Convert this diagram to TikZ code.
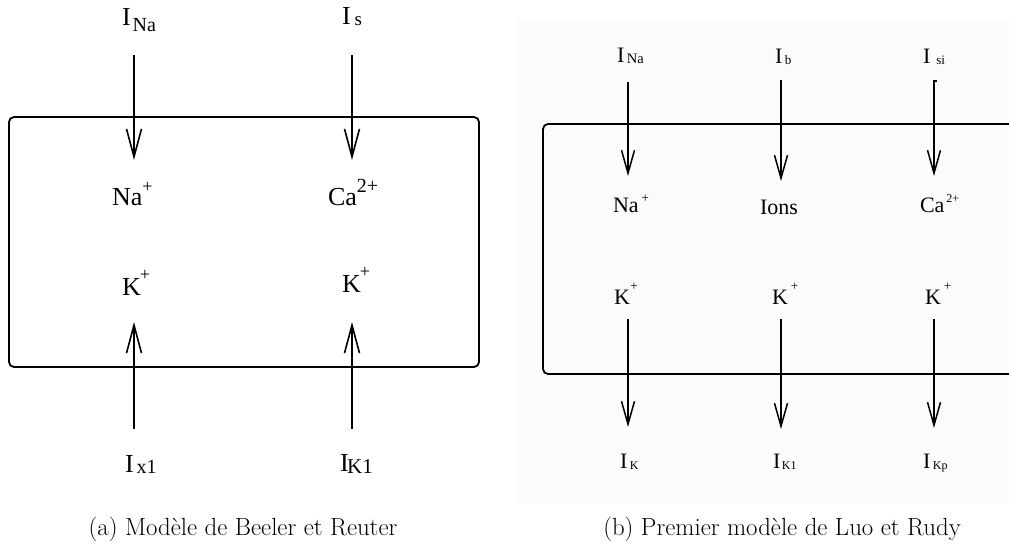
\documentclass[tikz,border=0pt]{standalone}
\usepackage{fontspec}
\newfontfamily\tnr{Liberation Serif}
\usetikzlibrary{arrows.meta}
\newcommand\fs[1]{\fontsize{#1}{#1}\selectfont}
\begin{document}
\begin{tikzpicture}[x=1pt,y=-1pt,
  lbl/.style={inner sep=0pt, outer sep=0pt, anchor=base west, font=\tnr},
  arrA/.style={line width=1.7pt, -{Straight Barb[length=28pt,width=15pt,line width=1.6pt]}},
  arrB/.style={line width=1.6pt, -{Straight Barb[length=23pt,width=13pt,line width=1.5pt]}},
  cellbox/.style={line width=1.8pt, rounded corners=5pt},
  captxt/.style={inner sep=0pt, anchor=base, font=\fs{24.8}}]
\clip (0,0) rectangle (1009,545);
\fill[white] (0,0) rectangle (1009,545);
\fill[black!1.5] (516,20) rectangle (1009,503);

% ---------- (a) ----------
\draw[cellbox] (9,117) rectangle (479,367);

\node[lbl] (aINa) at (122,26) {\fs{26}I\hspace{2pt}\raisebox{-6pt}{\fs{20}Na}};
\node[lbl] (aIs)  at (342,25) {\fs{26}I\hspace{4pt}\raisebox{-1pt}{\fs{19}s}};
\node[lbl] (aNa)  at (112,206) {\fs{26}Na\raisebox{13.5pt}{\fs{18}+}};
\node[lbl] (aCa)  at (328,206) {\fs{26}Ca\raisebox{13pt}{\fs{20}2+}};
\node[lbl] (aK1)  at (122,295) {\fs{26}K\hspace{-1pt}\raisebox{15pt}{\fs{18}+}};
\node[lbl] (aK2)  at (342,293) {\fs{26}K\hspace{-1pt}\raisebox{15.5pt}{\fs{18}+}};
\node[lbl] (aIx1) at (125,472) {\fs{26}I\hspace{3pt}\raisebox{-1pt}{\fs{20}x1}};
\node[lbl] (aIK1) at (340,471) {\fs{26}I\hspace{-1.5pt}\raisebox{-2pt}{\fs{21}K1}};

\coordinate (a1s) at (134,55);  \coordinate (a1e) at (134,160);
\coordinate (a2s) at (352,55);  \coordinate (a2e) at (352,160);
\coordinate (a3s) at (134,429); \coordinate (a3e) at (134,322);
\coordinate (a4s) at (352,429); \coordinate (a4e) at (352,322);
\draw[arrA] (a1s) -- (a1e);
\draw[arrA] (a2s) -- (a2e);
\draw[arrA] (a3s) -- (a3e);
\draw[arrA] (a4s) -- (a4e);

\node[captxt] (capa) at (243,535) {(a) Modèle de Beeler et Reuter};

% ---------- (b) ----------
\draw[cellbox] (1030,124) -- (543,124) -- (543,374) -- (1030,374);

\node[lbl] (bINa) at (617,63) {\fs{22}I\hspace{2.5pt}\raisebox{-1pt}{\fs{14.5}Na}};
\node[lbl] (bIb)  at (775,64) {\fs{22}I\hspace{2.5pt}\raisebox{-0.5pt}{\fs{13}b}};
\node[lbl] (bIsi) at (923,64) {\fs{22}I\hspace{6pt}\raisebox{-0.5pt}{\fs{13}si}};
\node[lbl] (bNa)  at (613,213) {\fs{22}Na\hspace{3pt}\raisebox{10.5pt}{\fs{13}+}};
\node[lbl] (bIons) at (760,215) {\fs{22}Ions};
\node[lbl] (bCa)  at (920,213) {\fs{22}Ca\hspace{2pt}\raisebox{10pt}{\fs{12}2+}};
\node[lbl] (bK1)  at (614,305) {\fs{22}K\hspace{0.5pt}\raisebox{14pt}{\fs{13}+}};
\node[lbl] (bK2)  at (772,305) {\fs{22}K\hspace{3pt}\raisebox{14pt}{\fs{13}+}};
\node[lbl] (bK3)  at (925,305) {\fs{22}K\hspace{3pt}\raisebox{14pt}{\fs{13}+}};
\node[lbl] (bIK)  at (620,468) {\fs{22}I\hspace{2.5pt}\raisebox{-1pt}{\fs{12}K}};
\node[lbl] (bIK1) at (773,468) {\fs{22}I\hspace{1.5pt}\raisebox{-1pt}{\fs{12}K1}};
\node[lbl] (bIKp) at (923,468) {\fs{22}I\hspace{2.5pt}\raisebox{-1pt}{\fs{12}Kp}};

\coordinate (b1s) at (628,82);  \coordinate (b1e) at (628,176);
\coordinate (b2s) at (781,80);  \coordinate (b2e) at (781,181);
\coordinate (b3h) at (937,81);  \coordinate (b3s) at (934,81); \coordinate (b3e) at (934,176);
\coordinate (b4s) at (628,319); \coordinate (b4e) at (628,427);
\coordinate (b5s) at (781,319); \coordinate (b5e) at (781,429);
\coordinate (b6s) at (934,319); \coordinate (b6e) at (934,428);
\draw[arrB] (b1s) -- (b1e);
\draw[arrB] (b2s) -- (b2e);
\draw[arrB] (b3h) -- (b3s) -- (b3e);
\draw[arrB] (b4s) -- (b4e);
\draw[arrB] (b5s) -- (b5e);
\draw[arrB] (b6s) -- (b6e);

\node[captxt] (capb) at (782,535) {(b) Premier modèle de Luo et Rudy};
\end{tikzpicture}
\end{document}
